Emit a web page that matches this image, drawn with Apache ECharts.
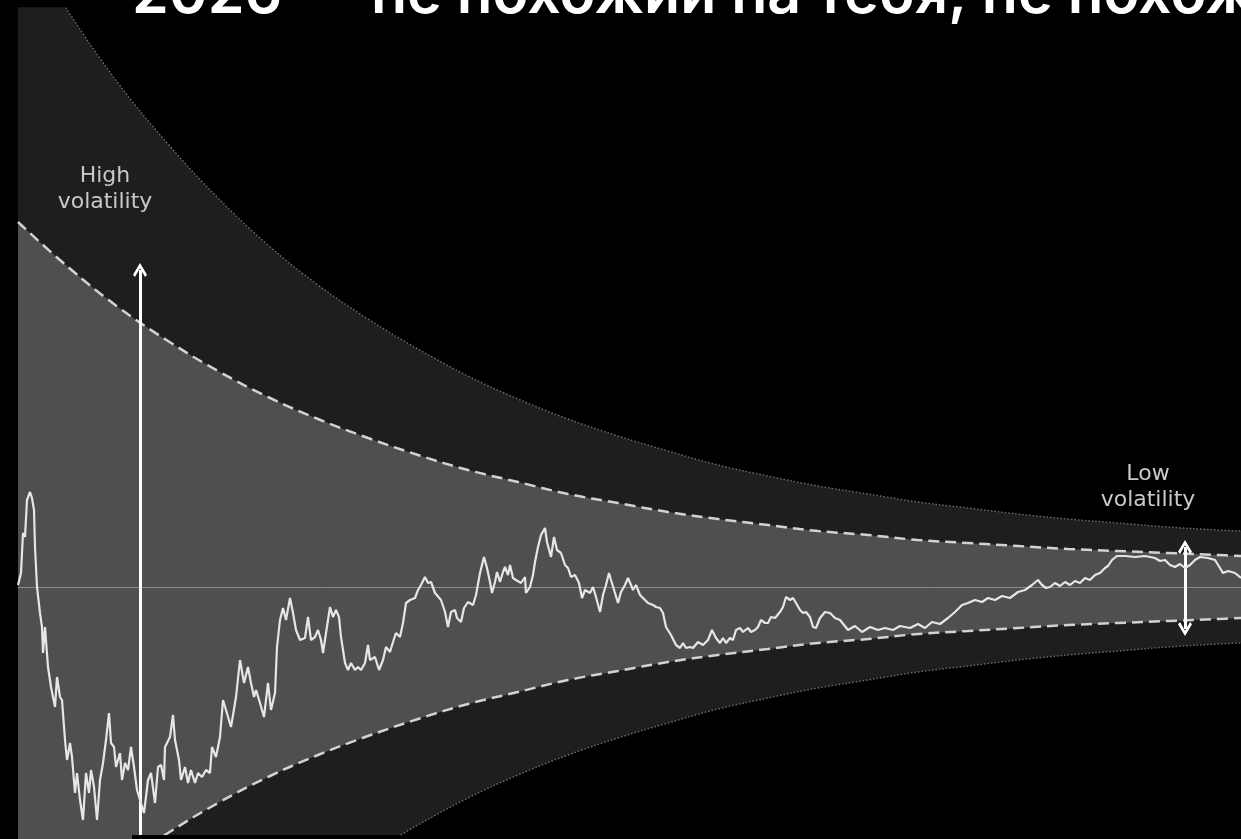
<!DOCTYPE html>
<html>
<head>
<meta charset="utf-8">
<script src="https://cdn.jsdelivr.net/npm/echarts@6/dist/echarts.min.js"></script>
<style>
  html, body { margin: 0; padding: 0; background: #000; }
  #chart { width: 1241px; height: 839px; }
</style>
</head>
<body>
<div id="chart"></div>
<script>
// ---- data (x in steps, y = deviation from the centre line) ----
const titleText = '2026 — не похожий на тебя, не похожий';
const highLabel = 'High\nvolatility';
const lowLabel = 'Low\nvolatility';

const bandX = [0,50,100,150,200,250,300,350,400,450,500,550,600,650,700,750,800,850,900,950,1000,1050,1100,1150,1200,1223];
const outerUpper = [657,576,504,443,389,342,302,268,238,211,188,168,151,136,122,111,101,93,85,79,73,68,64,60,57,56];
const outerLower = [-657,-576,-504,-443,-389,-342,-302,-268,-238,-211,-188,-168,-151,-136,-122,-111,-101,-93,-85,-79,-73,-68,-64,-60,-57,-56];
const innerUpper = [365,320,280,246,216,190,168,149,132,117,105,93,84,75,68,62,56,52,47,44,41,38,36,34,32,31];
const innerLower = [-365,-320,-280,-246,-216,-190,-168,-149,-132,-117,-105,-93,-84,-75,-68,-62,-56,-52,-47,-44,-41,-38,-36,-34,-32,-31];

const walkX = [0,3,5,7,9,12,14,16,17,19,22,24,25,27,30,33,37,39,42,44,47,49,52,54,57,59,62,65,68,71,73,76,79,82,85,88,91,93,96,98,102,104,107,110,113,116,119,122,126,130,133,137,140,143,146,147,152,155,157,161,163,167,170,173,177,180,184,188,192,194,198,202,205,208,213,218,222,226,230,233,236,238,242,246,250,253,257,259,262,265,268,272,275,278,282,287,290,293,297,300,303,305,308,312,315,318,321,323,327,330,333,337,340,343,347,350,352,357,361,365,368,372,375,378,382,385,388,392,397,400,403,407,410,413,417,423,427,430,433,437,439,443,446,450,455,458,462,466,469,472,474,477,479,482,485,487,490,492,495,498,503,507,508,512,515,517,520,523,527,529,533,536,539,543,547,550,553,557,561,564,567,572,575,578,582,585,588,591,593,597,600,603,607,610,613,615,618,622,627,630,635,638,642,645,648,653,658,662,665,668,672,675,680,685,690,694,698,702,705,708,712,715,718,722,725,730,733,737,740,743,747,750,753,757,762,765,768,772,775,778,782,785,788,792,795,798,802,807,812,817,822,830,837,844,852,860,867,875,882,892,900,907,914,922,930,937,944,950,957,964,970,977,984,992,1000,1007,1014,1020,1024,1028,1032,1037,1042,1047,1052,1057,1062,1067,1072,1077,1082,1087,1090,1094,1099,1107,1117,1127,1137,1142,1147,1152,1157,1162,1167,1172,1177,1182,1190,1197,1202,1205,1210,1217,1223];
const walkY = [2,14,54,50,87,95,89,77,40,0,-26,-40,-66,-40,-80,-100,-120,-90,-110,-113,-153,-173,-156,-170,-206,-186,-213,-233,-186,-206,-183,-200,-233,-193,-176,-153,-126,-156,-160,-180,-166,-193,-176,-183,-160,-180,-203,-213,-226,-193,-186,-216,-180,-178,-193,-160,-150,-128,-153,-173,-193,-180,-196,-183,-196,-186,-190,-183,-186,-160,-170,-150,-113,-123,-140,-110,-73,-96,-80,-96,-110,-103,-116,-130,-96,-123,-106,-60,-33,-21,-33,-11,-26,-43,-53,-51,-30,-53,-50,-43,-53,-66,-46,-20,-30,-23,-30,-50,-76,-83,-76,-83,-80,-83,-76,-58,-73,-70,-83,-73,-60,-65,-55,-46,-50,-36,-16,-13,-11,-3,2,10,4,5,-6,-13,-25,-40,-25,-23,-31,-35,-21,-15,-18,-8,14,30,19,5,-6,5,15,5,15,20,12,22,9,7,4,10,-6,0,12,25,40,52,59,45,30,50,37,34,22,19,10,12,4,-11,-3,-6,0,-10,-25,-8,2,14,7,-6,-16,-5,2,9,2,-3,2,-8,-13,-16,-18,-20,-21,-26,-40,-48,-58,-61,-56,-61,-60,-61,-55,-58,-53,-43,-51,-56,-51,-56,-51,-53,-43,-41,-45,-41,-45,-43,-40,-33,-36,-36,-30,-31,-25,-20,-10,-13,-11,-16,-23,-26,-25,-30,-40,-41,-31,-25,-26,-31,-33,-43,-39,-45,-40,-43,-41,-43,-39,-41,-37,-41,-35,-37,-31,-25,-18,-16,-13,-15,-11,-13,-9,-11,-5,-3,2,7,2,-1,0,4,1,5,2,6,4,9,7,12,14,19,21,27,31,31,30,31,29,26,27,22,20,23,19,22,27,30,29,27,19,14,16,14,9];

// arrow annotations (x, yFrom, yTo)
const highArrow = [122, -252, 317];
const lowArrow = [1167, -42, 40];
const highLabelPos = [87, 398];
const lowLabelPos = [1130, 100];

const zip = (xs, ys) => xs.map((x, i) => [x, ys[i]]);
const chevron = 'path://M50,0 L100,78 L86,92 L50,34 L14,92 L0,78 Z';

const chart = echarts.init(document.getElementById('chart'), null, { renderer: 'canvas' });

const outerLine = { color: '#6e6e6e', width: 1.4, type: [1.5, 2] };
const innerLine = { color: '#d2d2d2', width: 2.5, type: [11, 6] };

chart.setOption({
  backgroundColor: '#000000',
  animation: false,
  grid: { left: 18, right: 0, top: 8, bottom: 0, containLabel: false },
  xAxis: {
    type: 'value', min: 0, max: 1223,
    axisLine: { show: false }, axisTick: { show: false }, axisLabel: { show: false }, splitLine: { show: false }
  },
  yAxis: {
    type: 'value', min: -252, max: 579,
    axisLine: { show: false }, axisTick: { show: false }, axisLabel: { show: false }, splitLine: { show: false }
  },
  graphic: [
    {
      type: 'text', z: 100,
      style: { text: titleText, x: 132, y: -34, font: '600 59px Inter', fill: '#ffffff', textAlign: 'left', textVerticalAlign: 'top' }
    },
    {
      type: 'rect', z: 100,
      shape: { x: 132, y: 835, width: 1109, height: 4 },
      style: { fill: '#000000' }
    }
  ],
  series: [
    { type: 'line', data: zip(bandX, outerUpper), smooth: 0.4, showSymbol: false, silent: true,
      lineStyle: outerLine, areaStyle: { color: '#1e1e1e', opacity: 1 }, z: 1 },
    { type: 'line', data: zip(bandX, outerLower), smooth: 0.4, showSymbol: false, silent: true,
      lineStyle: outerLine, areaStyle: { color: '#1e1e1e', opacity: 1 }, z: 1 },
    { type: 'line', data: zip(bandX, innerUpper), smooth: 0.4, showSymbol: false, silent: true,
      lineStyle: innerLine, areaStyle: { color: '#4f4f4f', opacity: 1 }, z: 2 },
    { type: 'line', data: zip(bandX, innerLower), smooth: 0.4, showSymbol: false, silent: true,
      lineStyle: innerLine, areaStyle: { color: '#4f4f4f', opacity: 1 }, z: 2,
      markLine: {
        silent: true, symbol: 'none', label: { show: false },
        lineStyle: { color: '#8c8c8c', width: 1, type: 'solid' },
        data: [{ yAxis: 0 }]
      }
    },
    { type: 'line', data: zip(walkX, walkY), showSymbol: false, silent: true,
      lineStyle: { color: '#e6e6e6', width: 2.2 }, z: 5,
      markLine: {
        silent: true, label: { show: false },
        lineStyle: { color: '#ffffff', width: 3, type: 'solid' },
        symbolSize: [14, 14],
        data: [
          [{ coord: [highArrow[0], highArrow[1]], symbol: 'none' }, { coord: [highArrow[0], highArrow[2]], symbol: chevron }],
          [{ coord: [lowArrow[0], lowArrow[1]], symbol: chevron }, { coord: [lowArrow[0], lowArrow[2]], symbol: chevron }]
        ]
      },
      markPoint: {
        silent: true, symbol: 'circle', symbolSize: 1,
        itemStyle: { color: 'rgba(0,0,0,0)' },
        label: { show: true, position: 'inside', color: '#c8c8c8', fontSize: 22, lineHeight: 26,
                 fontFamily: 'DejaVu Sans', align: 'center' },
        data: [
          { coord: highLabelPos, label: { formatter: highLabel } },
          { coord: lowLabelPos, label: { formatter: lowLabel } }
        ]
      }
    }
  ]
});
</script>
</body>
</html>
